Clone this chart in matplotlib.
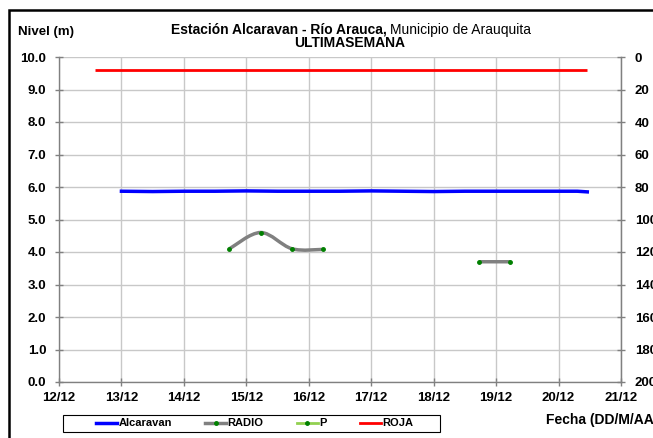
import matplotlib
matplotlib.use("Agg")
import matplotlib.pyplot as plt
import numpy as np
from matplotlib.path import Path
from matplotlib.patches import PathPatch, Rectangle
from matplotlib.lines import Line2D

plt.rcParams['font.family'] = ['Liberation Sans', 'DejaVu Sans']

# ---- data (x in days since 12/12 00:00) ----
tick_labels = ["12/12", "13/12", "14/12", "15/12", "16/12", "17/12", "18/12", "19/12", "20/12", "21/12"]

roja_x = [0.58, 8.46]
roja_y = [9.6, 9.6]

alc_x = [1.0, 1.5, 2.0, 2.5, 3.0, 3.5, 4.0, 4.5, 5.0, 5.5, 6.0, 6.5, 7.0, 7.5, 8.0, 8.3, 8.46]
alc_y = [5.87, 5.86, 5.87, 5.87, 5.88, 5.87, 5.87, 5.87, 5.88, 5.87, 5.86, 5.87, 5.87, 5.87, 5.87, 5.87, 5.85]

radio1_x = [2.73, 3.23, 3.73, 4.23]
radio1_y = [4.10, 4.60, 4.10, 4.08]
radio2_x = [6.73, 7.23]
radio2_y = [3.70, 3.70]

p_x = []
p_y = []

W, H = 653, 438
fig = plt.figure(figsize=(W/100, H/100), dpi=100)
L, R, T, B = 59, 621, 57, 382
ax = fig.add_axes([L/W, 1-B/H, (R-L)/W, (B-T)/H])
ax.set_xlim(0, 9)
ax.set_ylim(0, 10)
ax.set_xticks(range(len(tick_labels)))
ax.set_xticklabels(tick_labels)
ax.set_yticks(np.arange(0, 10.01, 1.0))
ax.set_yticklabels([f"{v:.1f}" for v in np.arange(0, 10.01, 1.0)])
ax.grid(True, color='#c8c8c8', linewidth=1.0)
ax.set_axisbelow(True)
ax.spines['top'].set_visible(False)
for s in ['left', 'bottom', 'right']:
    ax.spines[s].set_color('#808080')
    ax.spines[s].set_linewidth(1.0)
ax.tick_params(axis='both', direction='inout', length=6, color='#808080', width=1,
               labelsize=9.5)
ax.tick_params(axis='y', pad=6)
ax.tick_params(axis='x', pad=4)
for lab in ax.get_xticklabels() + ax.get_yticklabels():
    lab.set_fontweight('bold')

ax2 = ax.twinx()
ax2.set_ylim(200, 0)
ax2.set_yticks(range(0, 201, 20))
ax2.tick_params(axis='y', direction='inout', length=6, color='#808080', width=1,
                labelsize=9.5, pad=7)
for lab in ax2.get_yticklabels():
    lab.set_fontweight('bold')
for s in ['top', 'left', 'bottom']:
    ax2.spines[s].set_visible(False)
ax2.spines['right'].set_color('#808080')

ax.plot(roja_x, roja_y, color='#ff0000', linewidth=2.0, solid_capstyle='butt')
ax.plot(alc_x, alc_y, color='#0000ff', linewidth=2.5)

def smooth_path(xs, ys):
    pts = ax.transData.transform(np.column_stack([xs, ys]))
    n = len(pts)
    verts = [pts[0]]
    codes = [Path.MOVETO]
    for i in range(n - 1):
        p0 = pts[max(i - 1, 0)]
        p1 = pts[i]
        p2 = pts[i + 1]
        p3 = pts[min(i + 2, n - 1)]
        c1 = p1 + (p2 - p0) / 6.0
        c2 = p2 - (p3 - p1) / 6.0
        verts += [c1, c2, p2]
        codes += [Path.CURVE4] * 3
    verts = ax.transData.inverted().transform(np.array(verts))
    return Path(verts, codes)

for xs, ys in [(radio1_x, radio1_y), (radio2_x, radio2_y)]:
    patch = PathPatch(smooth_path(xs, ys), facecolor='none', edgecolor='#808080', linewidth=2.5)
    ax.add_patch(patch)
    ax.plot(xs, ys, linestyle='none', marker='o', markersize=2.5, color='#008000')

ax.plot(p_x, p_y, color='#92d050', marker='o', markersize=2.5, markerfacecolor='#008000',
        markeredgecolor='#008000')

# legend
handles = [
    Line2D([], [], color='#0000ff', linewidth=2.5),
    Line2D([], [], color='#808080', linewidth=2.5, marker='o', markersize=2.5,
           markerfacecolor='#008000', markeredgecolor='#008000'),
    Line2D([], [], color='#92d050', linewidth=2.0, marker='o', markersize=2.5,
           markerfacecolor='#008000', markeredgecolor='#008000'),
    Line2D([], [], color='#ff0000', linewidth=2.0),
]
fig.add_artist(Rectangle((63/W, 1-432/H), (440-63)/W, 17/H, transform=fig.transFigure,
                         facecolor='white', edgecolor='black', linewidth=0.8))
leg = fig.legend(handles, ["Alcaravan", "RADIO", "P", "ROJA"], loc='center left',
                 bbox_to_anchor=(96/W, 1-423.5/H), ncol=4, frameon=False,
                 prop={'weight': 'bold', 'size': 8},
                 handlelength=1.9, handletextpad=0.1, columnspacing=3.0,
                 borderpad=0.0, borderaxespad=0.0)

fig.text(546/W, 1-420/H, "Fecha (DD/M/AA)", fontsize=10, fontweight='bold', ha='left', va='center')
fig.text(18/W, 1-32/H, "Nivel (m)", fontsize=9.5, fontweight='bold', ha='left', va='center')
fig.text(387/W, 1-30/H, "Estación Alcaravan - Río Arauca,", fontsize=10, fontweight='bold',
         ha='right', va='center')
fig.text(390/W, 1-30/H, "Municipio de Arauquita", fontsize=10, ha='left', va='center')
fig.text(350/W, 1-43/H, "ULTIMASEMANA", fontsize=10, fontweight='bold', ha='center', va='center')

fig.add_artist(Line2D([9/W, 9/W, 1.0], [0.0, 1-10/H, 1-10/H], transform=fig.transFigure,
                      color='black', linewidth=1.8, solid_joinstyle='miter'))

fig.savefig("out.png", dpi=100)
